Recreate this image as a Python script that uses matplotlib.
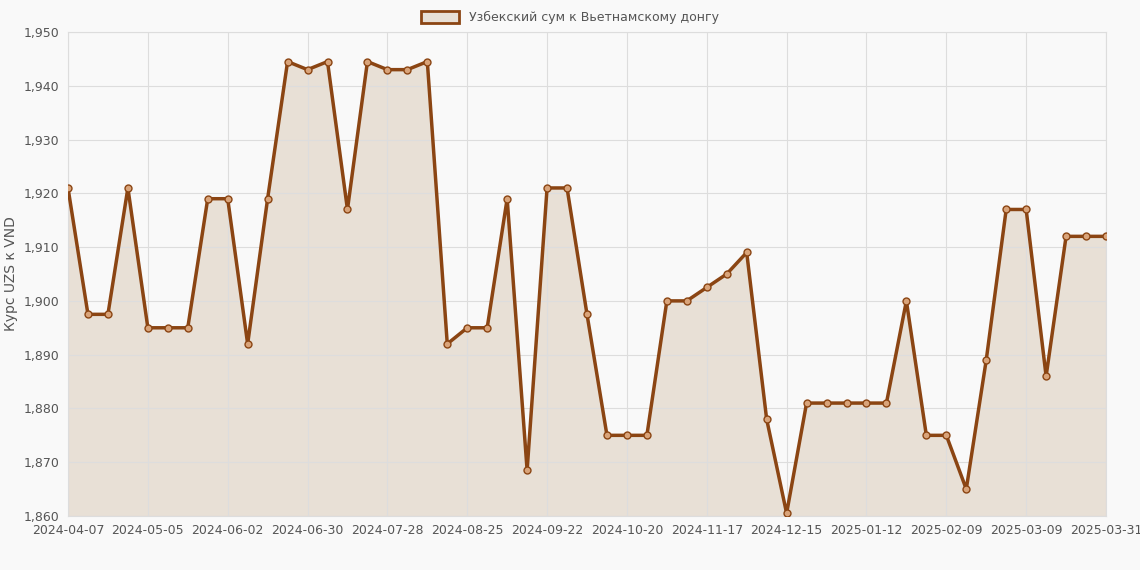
import numpy as np
import matplotlib.pyplot as plt

values = [1921, 1897.5, 1897.5, 1921, 1895, 1895, 1895, 1919, 1919, 1892,
          1919, 1944.5, 1943, 1944.5, 1917, 1944.5, 1943, 1943, 1944.5, 1892,
          1895, 1895, 1919, 1868.5, 1921, 1921, 1897.5, 1875, 1875, 1875,
          1900, 1900, 1902.5, 1905, 1909, 1878, 1860.5, 1881, 1881, 1881,
          1881, 1881, 1900, 1875, 1875, 1865, 1889, 1917, 1917, 1886,
          1912, 1912, 1912]
tick_pos = [0, 4, 8, 12, 16, 20, 24, 28, 32, 36, 40, 44, 48, 52]
tick_labels = ['2024-04-07', '2024-05-05', '2024-06-02', '2024-06-30', '2024-07-28',
               '2024-08-25', '2024-09-22', '2024-10-20', '2024-11-17', '2024-12-15',
               '2025-01-12', '2025-02-09', '2025-03-09', '2025-03-31']

line_c = '#8b4513'
x = np.arange(len(values))

fig = plt.figure(figsize=(11.4, 5.7), dpi=100, facecolor='#f9f9f9')
ax = fig.add_axes([68/1140, 1-516/570, (1106-68)/1140, (516-32)/570])
ax.set_facecolor('#f9f9f9')
ax.fill_between(x, values, 1860, color='#e8e0d6', zorder=1)
ax.plot(x, values, color=line_c, lw=2.5, marker='o', ms=5,
        mfc='#d9a47a', mec=line_c, mew=1, zorder=3, label='Узбекский сум к Вьетнамскому донгу')
ax.set_xlim(0, len(values) - 1)
ax.set_ylim(1860, 1950)
ax.set_yticks(range(1860, 1951, 10))
ax.set_yticklabels([f'{v:,}' for v in range(1860, 1951, 10)])
ax.set_xticks(tick_pos)
ax.set_xticklabels(tick_labels)
ax.grid(True, color='#dddddd', lw=0.8, zorder=0)
for s in ax.spines.values():
    s.set_color('#dddddd')
ax.tick_params(colors='#555555', labelsize=9, length=0, pad=6)
ax.set_ylabel('Курс UZS к VND', color='#555555', fontsize=10)
leg = fig.legend(handles=[plt.Rectangle((0, 0), 1, 1, fc='#e8e0d6', ec=line_c, lw=2)],
                 labels=['Узбекский сум к Вьетнамскому донгу'], loc='upper center',
                 bbox_to_anchor=(0.5, 1.0), frameon=False, fontsize=9,
                 handlelength=3, handleheight=1)
for t in leg.get_texts():
    t.set_color('#555555')
fig.savefig('out.png', dpi=100, facecolor=fig.get_facecolor())
